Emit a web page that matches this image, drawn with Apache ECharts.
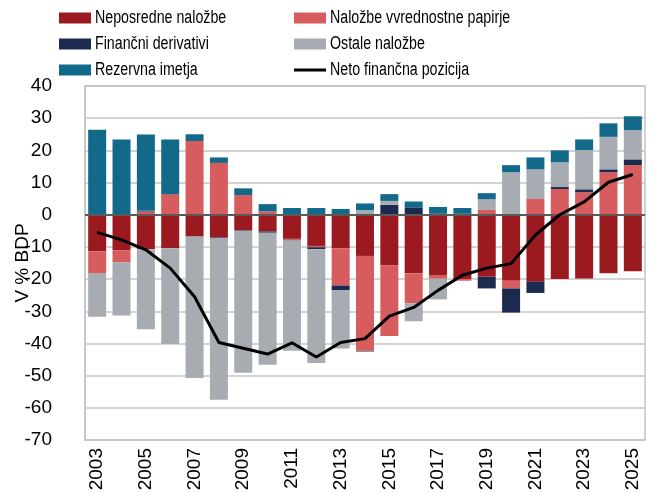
<!DOCTYPE html>
<html>
<head>
<meta charset="utf-8">
<script src="https://cdn.jsdelivr.net/npm/echarts@6/dist/echarts.min.js"></script>
<style>
  html, body { margin: 0; padding: 0; background: #fff; }
  #chart { width: 655px; height: 493px; }
</style>
</head>
<body>
<div id="chart"></div>
<script>
// Slovenia: international investment position by component, % of GDP
const years = ['2003','2004','2005','2006','2007','2008','2009','2010','2011','2012','2013','2014',
               '2015','2016','2017','2018','2019','2020','2021','2022','2023','2024','2025'];

const directInvestment = [-11.4,-11.1,-10.7,-10.4,-6.8,-7.0,-4.8,-5.2,-7.5,-9.7,-10.4,-12.8,
                          -15.8,-18.2,-18.7,-20.0,-19.3,-20.5,-20.8,-20.0,-19.8,-18.2,-17.6];
const portfolioInvestment = [-6.7,-3.7,1.0,6.4,22.9,16.1,6.1,1.0,-0.3,-0.4,-11.6,-29.5,
                             -21.9,-9.3,-1.2,-0.5,1.5,-2.4,4.9,8.0,7.0,13.2,15.4];
const derivatives = [0,0,0.2,0,0,-0.2,-0.2,-0.4,-0.2,-0.6,-1.4,-0.2,
                     3.1,2.3,0.4,0.3,-3.6,-7.5,-3.5,0.6,0.9,0.9,1.8];
const otherInvestment = [-13.6,-16.5,-24.9,-29.8,-43.9,-50.3,-44.1,-41.0,-34.3,-35.4,-18.2,1.4,
                         1.2,-5.6,-6.4,0,3.3,13.2,9.2,7.7,12.2,10.1,9.1];
const reserveAssets = [26.4,23.4,23.7,17.0,2.1,1.7,2.1,2.3,2.1,2.1,1.8,2.1,
                       2.1,1.8,2.0,1.8,1.9,2.2,3.7,3.7,3.3,4.2,4.3];
const netPosition = [-5.5,-7.8,-10.9,-16.6,-25.5,-39.7,-41.5,-43.3,-39.8,-44.2,-39.7,-38.5,
                     -31.5,-28.8,-23.5,-18.8,-16.6,-15.2,-6.3,0.0,4.0,10.1,12.5];

const yTicks = { min: -70, max: 40, step: 10 };

const names = {
  direct: 'Neposredne naložbe',
  portfolio: 'Naložbe vvrednostne papirje',
  deriv: 'Finančni derivativi',
  other: 'Ostale naložbe',
  reserves: 'Rezervna imetja',
  net: 'Neto finančna pozicija'
};

const colors = {
  direct: '#9a1a1f',
  portfolio: '#d75c5e',
  deriv: '#1b2a4e',
  other: '#a6acb2',
  reserves: '#13698a',
  net: '#000000'
};

const tickFont = 'Liberation Sans, Arial, sans-serif';

function barSeries(key, values) {
  return {
    name: names[key],
    type: 'bar',
    stack: 'iip',
    barWidth: 18,
    data: values,
    itemStyle: { color: colors[key] },
    emphasis: { disabled: true }
  };
}

// Two-column key drawn with narrowed text
const keyLayout = [
  { key: 'direct',    col: 0, row: 0 },
  { key: 'portfolio', col: 1, row: 0 },
  { key: 'deriv',     col: 0, row: 1 },
  { key: 'other',     col: 1, row: 1 },
  { key: 'reserves',  col: 0, row: 2 },
  { key: 'net',       col: 1, row: 2 }
];
const keyColX = [59, 294];
const keyRowY = [18, 44, 70];
const keyElements = [];
keyLayout.forEach(function (k) {
  const x0 = keyColX[k.col];
  const y0 = keyRowY[k.row];
  if (k.key === 'net') {
    keyElements.push({
      type: 'line', silent: true,
      shape: { x1: x0, y1: y0, x2: x0 + 32, y2: y0 },
      style: { stroke: colors.net, lineWidth: 3 }
    });
  } else {
    keyElements.push({
      type: 'rect', silent: true,
      shape: { x: x0, y: y0 - 5.5, width: 32, height: 11 },
      style: { fill: colors[k.key] }
    });
  }
  keyElements.push({
    type: 'text', silent: true,
    x: x0 + 36, y: y0, scaleX: 0.79,
    style: {
      text: names[k.key], x: 0, y: 0,
      verticalAlign: 'middle', align: 'left',
      font: '18px "Liberation Sans", Arial, sans-serif',
      fill: '#000'
    }
  });
});

const chart = echarts.init(document.getElementById('chart'), null, { renderer: 'canvas' });
chart.setOption({
  animation: false,
  backgroundColor: '#fff',
  grid: {
    left: 85, right: 10, top: 86, bottom: 53,
    outerBoundsMode: 'none',
    containLabel: false,
    show: true, borderColor: '#c4c4c4', borderWidth: 1.5
  },
  graphic: keyElements,
  xAxis: {
    type: 'category',
    data: years,
    axisLine: { show: true, onZero: false, lineStyle: { color: '#c4c4c4', width: 1.5 } },
    axisTick: { show: false },
    axisLabel: {
      interval: 1,
      rotate: 90,
      margin: 8,
      fontFamily: tickFont,
      fontSize: 19,
      color: '#000'
    }
  },
  yAxis: {
    type: 'value',
    min: yTicks.min,
    max: yTicks.max,
    interval: yTicks.step,
    name: 'V % BDP',
    nameLocation: 'middle',
    nameGap: 53,
    nameMoveOverlap: false,
    nameTextStyle: { fontFamily: tickFont, fontSize: 19, color: '#000' },
    axisLine: { show: true, lineStyle: { color: '#c4c4c4', width: 1.5 } },
    axisTick: { show: false },
    axisLabel: { margin: 33, fontFamily: tickFont, fontSize: 19, color: '#000' },
    splitLine: { lineStyle: { color: '#c4c4c4', width: 1.5 } }
  },
  series: [
    barSeries('direct', directInvestment),
    barSeries('portfolio', portfolioInvestment),
    barSeries('deriv', derivatives),
    barSeries('other', otherInvestment),
    Object.assign(barSeries('reserves', reserveAssets), {
      markLine: {
        silent: true,
        symbol: 'none',
        label: { show: false },
        lineStyle: { color: '#5a5a5a', width: 2, type: 'solid' },
        data: [{ yAxis: 0 }]
      }
    }),
    {
      name: names.net,
      type: 'line',
      data: netPosition,
      symbol: 'none',
      lineStyle: { color: colors.net, width: 3 },
      itemStyle: { color: colors.net },
      z: 5,
      emphasis: { disabled: true }
    }
  ]
});
</script>
</body>
</html>
